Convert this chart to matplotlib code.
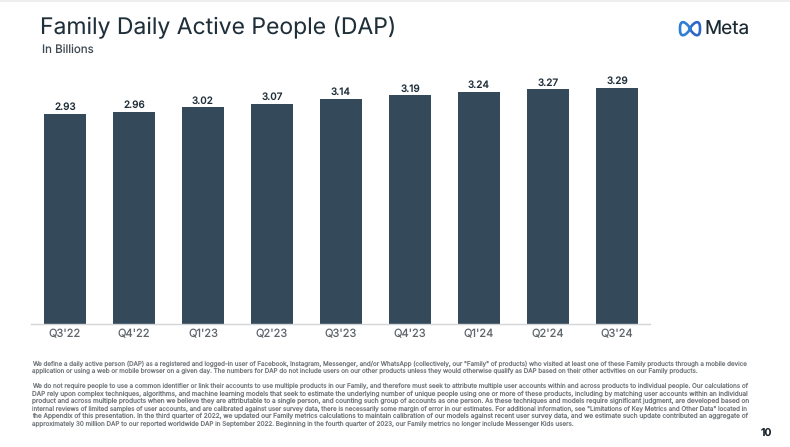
"""Family DAP slide: bar chart plus title, logo and fitted footnote lines."""
import numpy as np
import matplotlib
matplotlib.use("Agg")
import matplotlib.pyplot as plt

W, H = 790, 447

quarters = ["Q3'22", "Q4'22", "Q1'23", "Q2'23", "Q3'23", "Q4'23", "Q1'24", "Q2'24", "Q3'24"]
dap = [2.93, 2.96, 3.02, 3.07, 3.14, 3.19, 3.24, 3.27, 3.29]

footnote = [
    'We define a daily active person (DAP) as a registered and logged-in user of Facebook, Instagram, Messenger, and/or WhatsApp (collectively, our "Family" of products) who visited at least one of these Family products through a mobile device',
    'application or using a web or mobile browser on a given day. The numbers for DAP do not include users on our other products unless they would otherwise qualify as DAP based on their other activities on our Family products.',
    'We do not require people to use a common identifier or link their accounts to use multiple products in our Family, and therefore must seek to attribute multiple user accounts within and across products to individual people. Our calculations of',
    'DAP rely upon complex techniques, algorithms, and machine learning models that seek to estimate the underlying number of unique people using one or more of these products, including by matching user accounts within an individual',
    'product and across multiple products when we believe they are attributable to a single person, and counting such group of accounts as one person. As these techniques and models require significant judgment, are developed based on',
    'internal reviews of limited samples of user accounts, and are calibrated against user survey data, there is necessarily some margin of error in our estimates. For additional information, see "Limitations of Key Metrics and Other Data" located in',
    'the Appendix of this presentation. In the third quarter of 2022, we updated our Family metrics calculations to maintain calibration of our models against recent user survey data, and we estimate such update contributed an aggregate of',
    'approximately 30 million DAP to our reported worldwide DAP in September 2022. Beginning in the fourth quarter of 2023, our Family metrics no longer include Messenger Kids users.',
]
foot_y = [363.7, 371.4, 386.2, 393.7, 401.2, 408.7, 416.2, 423.6]
foot_right = [747.5, 696, 747.5, 747.5, 747.5, 747.5, 747.5, 574]

DARK = "#1f2f3a"
BAR = "#34495a"
GREY = "#5f666b"
FOOT = "#767b7f"

plt.rcParams["font.family"] = ["Inter", "DejaVu Sans"]
plt.rcParams["text.hinting"] = "no_hinting"
plt.rcParams["text.hinting_factor"] = 1


def px(x, y):
    return x / W, 1 - y / H


def fitted(fig, line, y, right, left=32.5, size=4.7):
    """One footnote line, font size nudged so it ends at the given right edge."""
    art = fig.text(*px(left, y + 1.7), line, fontsize=size, color=FOOT, va="baseline")
    width = art.get_window_extent(fig.canvas.get_renderer()).width
    art.set_fontsize(size * (right - left) / width)


fig = plt.figure(figsize=(W / 100, H / 100), dpi=100, facecolor="white")

# chart area, laid out in slide pixels
ax = fig.add_axes([31 / W, 1 - 323.5 / H, (650 - 31) / W, (323.5 - 60) / H])
x = np.arange(len(quarters))
bars = ax.bar(x, dap, width=0.616, color=BAR)
ax.bar_label(bars, labels=[f"{v:.2f}" for v in dap], padding=1.2, fontsize=7.2,
             color=DARK, fontweight="medium")
ax.set_xlim(-0.493, 8.478)
ax.set_ylim(0, (323.5 - 60) / 71.6)
ax.set_xticks(x, quarters)
ax.set_yticks([])
ax.tick_params(axis="x", length=0, pad=4, labelsize=8.0, labelcolor=GREY)
for s in ("top", "left", "right"):
    ax.spines[s].set_visible(False)
ax.spines["bottom"].set_color("#d3d6d8")
ax.spines["bottom"].set_linewidth(1.0)
ax.patch.set_alpha(0)

fig.text(*px(39.5, 28), "Family Daily Active People (DAP)", fontsize=16.5, color=DARK,
         va="center")
fig.text(*px(41.5, 51), "In Billions", fontsize=8.3, color="#3f4a52", va="center")
fig.text(*px(772.5, 432.5), "10", fontsize=7.6, color="#15202a", va="center",
         ha="right", fontweight="semibold")

# Meta logo: infinity loop and word mark
logo = fig.add_axes([0, 0, 1, 1], zorder=-1)
logo.set_xlim(0, W)
logo.set_ylim(H, 0)
logo.axis("off")
t = np.linspace(0, 2 * np.pi, 200)
lx = 690 + 10 * np.sin(t)
ly = 28.7 - 6.5 * np.sign(np.sin(2 * t)) * np.abs(np.sin(2 * t)) ** 0.75
logo.plot(lx[:100], ly[:100], color="#2f66c8", lw=1.9)
logo.plot(lx[100:], ly[100:], color="#2c7fd6", lw=1.9)
fig.text(*px(704.5, 29.5), "Meta", fontsize=13.7, color="#1c2b33", va="center")

fig.canvas.draw()
for line, y, right in zip(footnote, foot_y, foot_right):
    fitted(fig, line, y, right)

# faint band along the top edge of the screenshot
fig.add_artist(plt.Rectangle((0, 1 - 1.5 / H), 1, 1.5 / H, transform=fig.transFigure,
                             color="#eeeeee", lw=0))

fig.savefig("out.png", dpi=100)
